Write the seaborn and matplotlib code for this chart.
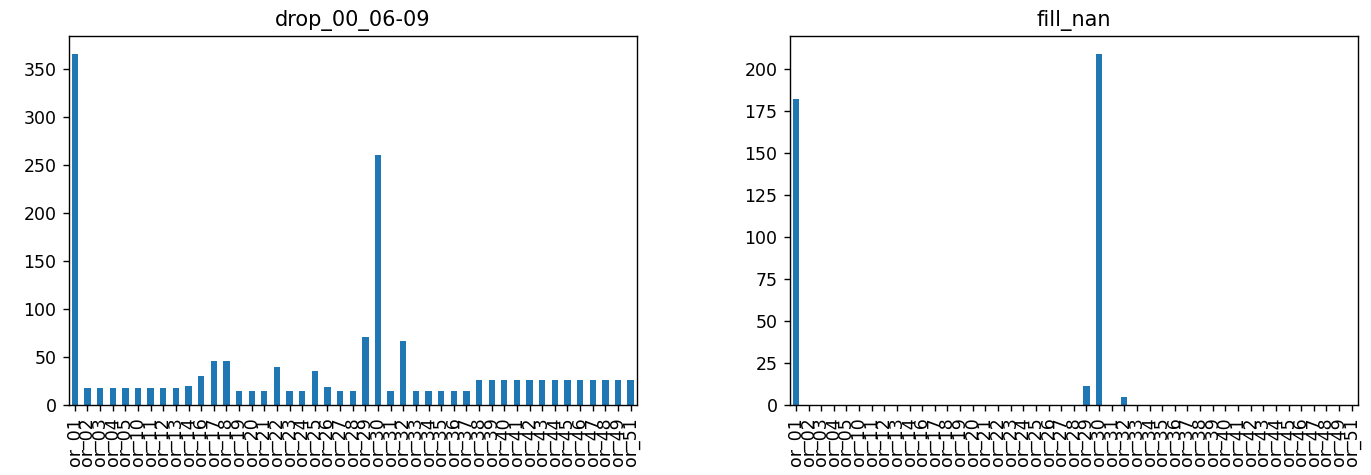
"""
plot.py
Per-column counts for two cleaning strategies, side by side.
"""

import matplotlib
matplotlib.use("Agg")
import matplotlib.pyplot as plt
import seaborn as sns
import pandas as pd


columns = (
    ["or_01", "or_02", "or_03", "or_04", "or_05",
     "or_10", "or_11", "or_12", "or_13", "or_14"]
    + [f"or_{i}" for i in range(16, 50)]
    + ["or_51"]
)

drop_counts = [
    366, 18, 18, 18, 18,          # or_01 - or_05
    18, 18, 18, 18, 20,           # or_10 - or_14
    30, 46, 46, 15, 15, 15, 40,   # or_16 - or_22
    15, 15, 35, 19, 15, 15, 71,   # or_23 - or_29
    260, 15, 67, 15, 15, 15, 15,  # or_30 - or_36
    15, 26, 26, 26, 26, 26, 26,   # or_37 - or_43
    26, 26, 26, 26, 26, 26, 26,   # or_44 - or_49, or_51
]

fill_counts = [0] * len(columns)
fill_counts[columns.index("or_01")] = 182
fill_counts[columns.index("or_29")] = 11
fill_counts[columns.index("or_30")] = 209
fill_counts[columns.index("or_32")] = 5

panels = [
    ("drop_00_06-09", drop_counts),
    ("fill_nan", fill_counts),
]


def bar_panel(ax, title, values):
    df = pd.DataFrame({"column": columns, "count": values})
    sns.barplot(data=df, x="column", y="count", order=columns,
                color="#1f77b4", saturation=1, width=0.5, ax=ax)
    ax.set_title(title, fontsize=12)
    ax.set_xlabel("")
    ax.set_ylabel("")
    ax.tick_params(axis="x", labelrotation=90)
    for side in ["top", "right", "left", "bottom"]:
        ax.spines[side].set_visible(True)
        ax.spines[side].set_color("black")


fig = plt.figure(figsize=(1371 / 125, 475 / 125), dpi=125)
ax_left = fig.add_axes([0.050, 0.1474, 0.4146, 0.7768])
ax_right = fig.add_axes([0.5759, 0.1474, 0.4146, 0.7768])

for ax, (title, values) in zip([ax_left, ax_right], panels):
    bar_panel(ax, title, values)

fig.savefig("out.png", dpi=125)
plt.close(fig)
